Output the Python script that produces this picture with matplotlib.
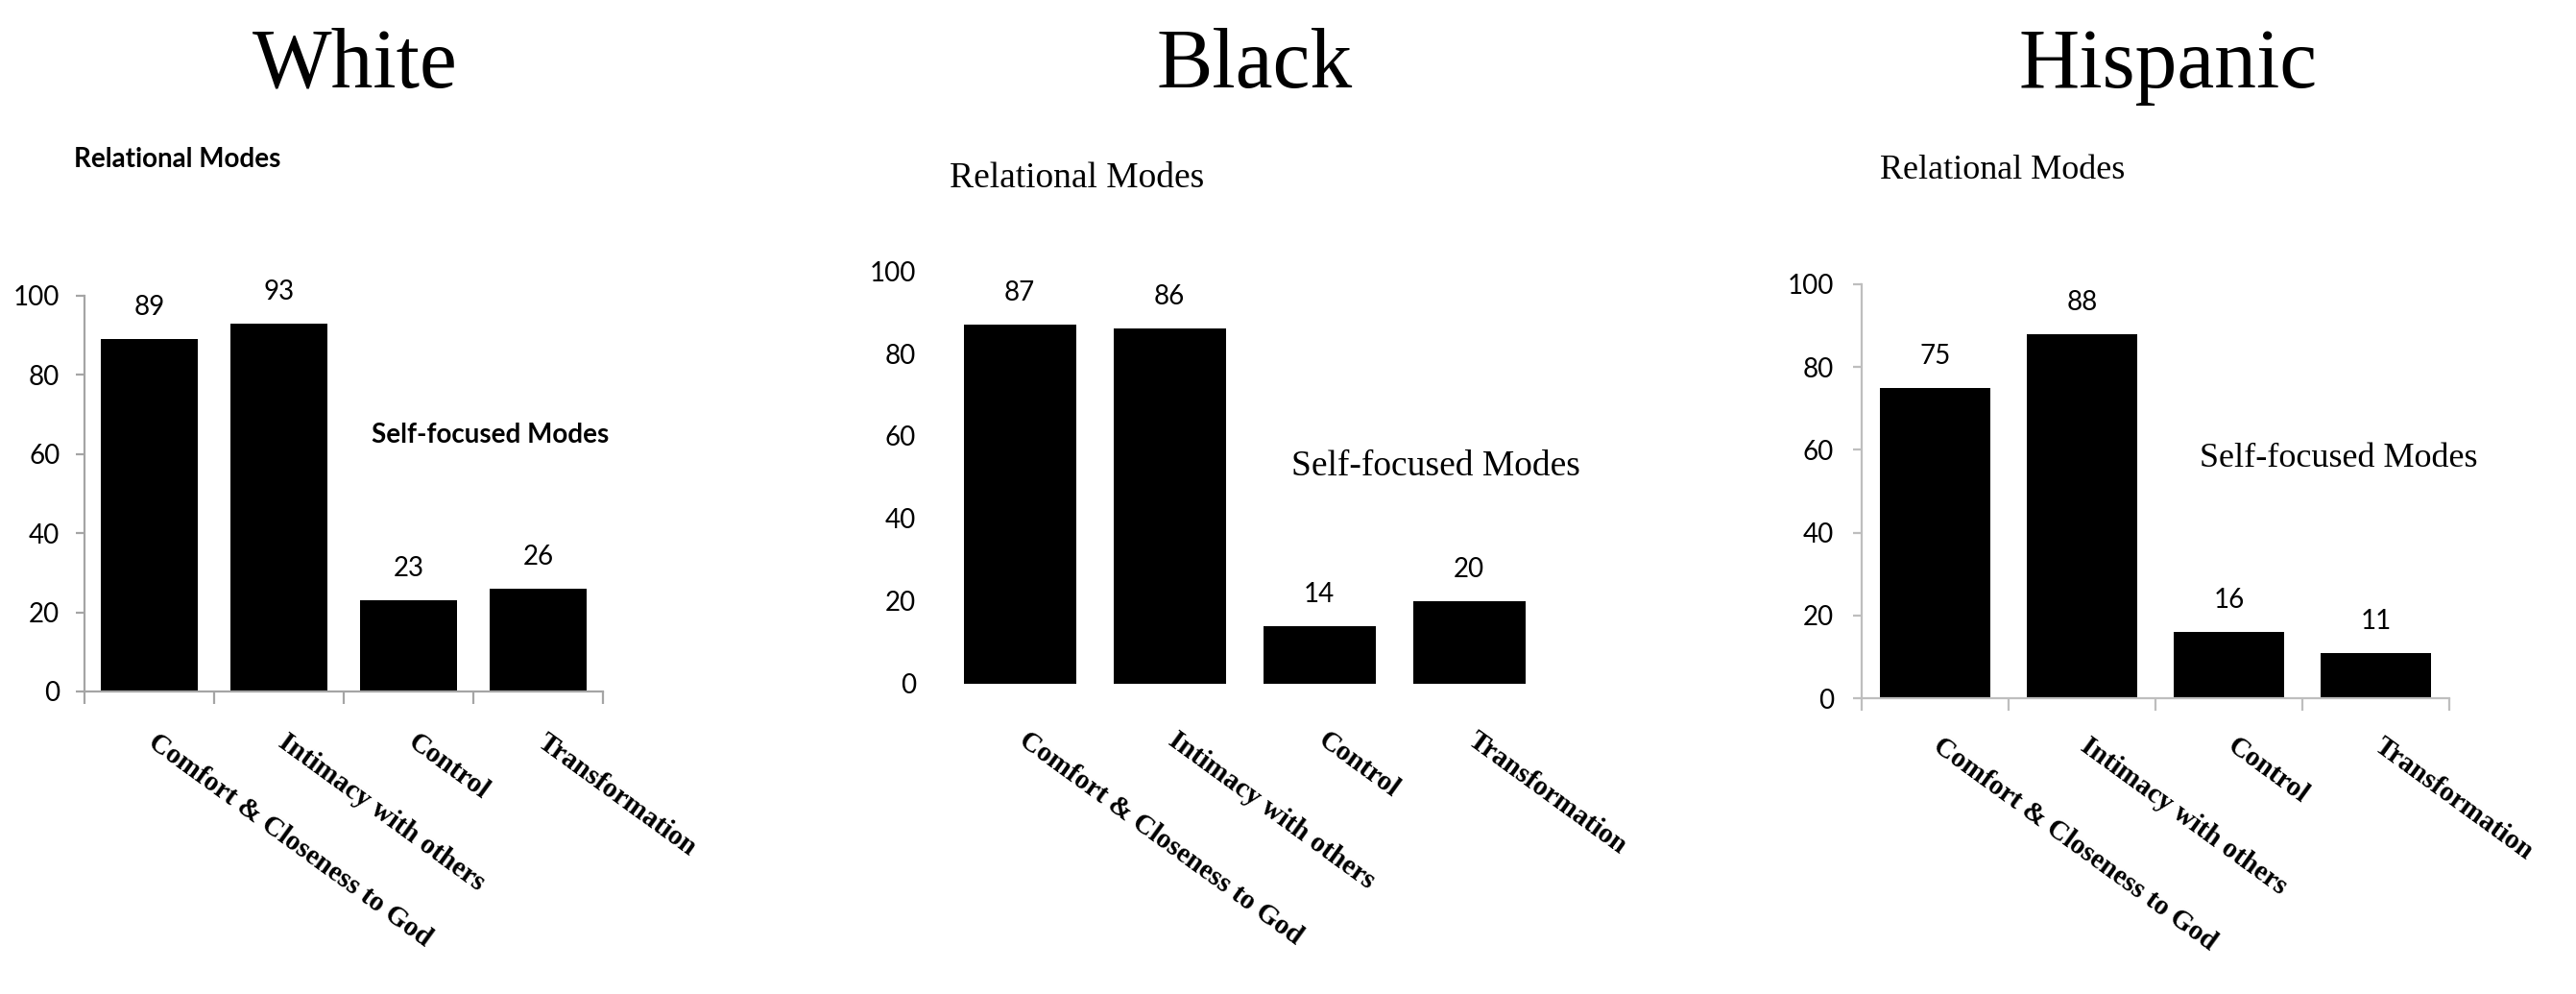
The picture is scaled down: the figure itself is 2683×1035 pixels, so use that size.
import matplotlib
matplotlib.use("Agg")
import matplotlib.pyplot as plt
import numpy as np

# data
groups = ["White", "Black", "Hispanic"]
categories = ["Comfort & Closeness to God", "Intimacy with others", "Control", "Transformation"]
white_values = [89, 93, 23, 26]
black_values = [87, 86, 14, 20]
hispanic_values = [75, 88, 16, 11]
relational_label = "Relational Modes"
self_label = "Self-focused Modes"

W, H = 2683, 1035
DPI = 100

SANS = ["Lato", "DejaVu Sans"]
SERIF = ["Liberation Serif", "DejaVu Serif"]


def px(x, y):
    """pixel coords (from top-left) -> figure fraction"""
    return x / W, 1 - y / H


# per panel layout, in reference pixels
panels = [
    dict(values=white_values, left=88, right=628, top=308, zero=720,
         axis_color="#A5A5A5", show_axes=True, ytick_pad=12, cat_offset=(10, -39),
         title_x=370, rel_xy=(77, 166), self_xy=(387, 453),
         note_font=dict(family=SANS, weight="bold", size=20)),
    dict(values=black_values, left=984, right=1608, top=282, zero=712,
         axis_color="white", show_axes=False, ytick_pad=21.5, cat_offset=(10, -45),
         title_x=1307, rel_xy=(989, 186), self_xy=(1345, 486),
         note_font=dict(family=SERIF, weight="normal", size=27)),
    dict(values=hispanic_values, left=1939, right=2551, top=296, zero=727,
         axis_color="#BEBEBE", show_axes=True, ytick_pad=14.5, cat_offset=(9, -36),
         title_x=2258, rel_xy=(1958, 178), self_xy=(2291, 478),
         note_font=dict(family=SERIF, weight="normal", size=26)),
]

fig = plt.figure(figsize=(W / DPI, H / DPI), dpi=DPI)

for name, p in zip(groups, panels):
    x0, y0 = px(p["left"], p["zero"])
    x1, y1 = px(p["right"], p["top"])
    ax = fig.add_axes([x0, y0, x1 - x0, y1 - y0])

    x = np.arange(len(categories))
    ax.bar(x, p["values"], width=0.75, color="black")
    ax.set_xlim(-0.5, len(categories) - 0.5)
    ax.set_ylim(0, 100)

    for i, v in enumerate(p["values"]):
        ax.annotate(str(v), (i, v), xytext=(0, 33), textcoords="offset pixels",
                    ha="center", va="center", fontsize=20, family=SANS)

    for side in ["top", "right"]:
        ax.spines[side].set_visible(False)
    for side in ["left", "bottom"]:
        ax.spines[side].set_color(p["axis_color"])
        ax.spines[side].set_linewidth(1.6)
        ax.spines[side].set_visible(p["show_axes"])

    ax.set_yticks(np.arange(0, 101, 20))
    tick_len = 6.5 if p["show_axes"] else 0
    ax.tick_params(axis="y", length=tick_len, width=1.6, color=p["axis_color"],
                   pad=p["ytick_pad"], labelsize=20)
    for lab in ax.get_yticklabels():
        lab.set_family(SANS)

    # tick marks sit on the category boundaries
    ax.set_xticks(np.arange(-0.5, len(categories), 1.0))
    ax.set_xticklabels([])
    ax.tick_params(axis="x", length=9 if p["show_axes"] else 0,
                   width=1.6, color=p["axis_color"])

    # slanted category names under each bar
    for i, cat in enumerate(categories):
        ax.annotate(cat, (i, 0), xycoords=("data", "axes fraction"),
                    xytext=p["cat_offset"], textcoords="offset pixels",
                    rotation=-36, rotation_mode="anchor", ha="left", va="top",
                    family=SERIF, weight="bold", fontsize=21, annotation_clip=False)

    tx, ty = px(p["title_x"], 91)
    fig.text(tx, ty, name, ha="center", va="baseline", family=SERIF, fontsize=63)

    rx, ry = px(*p["rel_xy"])
    fig.text(rx, ry, relational_label, ha="left", va="center", **p["note_font"])
    sx, sy = px(*p["self_xy"])
    fig.text(sx, sy, self_label, ha="left", va="center", **p["note_font"])

fig.savefig("out.png", dpi=DPI)
